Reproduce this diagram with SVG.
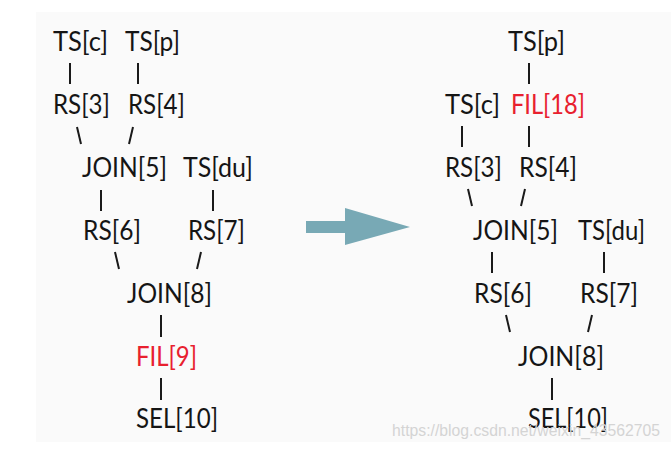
<svg xmlns="http://www.w3.org/2000/svg" width="671" height="449" viewBox="0 0 671 449">
<style>
.n{font-family:Lato,"Open Sans","Liberation Sans",sans-serif;font-size:26px;fill:#151515}
.r{fill:#e8202e}
.c line{stroke:#1a1a1a;stroke-width:2;stroke-linecap:butt}
.wm{font-family:"Liberation Sans",Arial,sans-serif;font-size:16px;fill:#d4d4d4}
</style>
<rect x="0" y="0" width="671" height="449" fill="#ffffff"/>
<rect x="36" y="12" width="635" height="430" fill="#fafafa"/>
<g id="connectors" class="c">
<line x1="70" y1="63" x2="70" y2="84"/>
<line x1="138" y1="63" x2="138" y2="84"/>
<line x1="77" y1="127" x2="81" y2="144"/>
<line x1="133" y1="127" x2="129" y2="144"/>
<line x1="101" y1="190" x2="101" y2="211"/>
<line x1="213" y1="190" x2="213" y2="211"/>
<line x1="115" y1="252" x2="119" y2="269"/>
<line x1="201" y1="252" x2="197" y2="269"/>
<line x1="161" y1="315" x2="161" y2="337"/>
<line x1="161" y1="378" x2="161" y2="400"/>
<line x1="529" y1="63" x2="529" y2="84"/>
<line x1="462" y1="126" x2="462" y2="147"/>
<line x1="529" y1="126" x2="529" y2="147"/>
<line x1="468" y1="189" x2="472" y2="206"/>
<line x1="525" y1="189" x2="521" y2="206"/>
<line x1="492" y1="252" x2="492" y2="273"/>
<line x1="604" y1="252" x2="604" y2="273"/>
<line x1="506" y1="315" x2="510" y2="332"/>
<line x1="592" y1="315" x2="588" y2="332"/>
<line x1="552" y1="378" x2="552" y2="400"/>
</g>
<g id="arrow"><polygon points="306,221 345,221 345,208 410,227 345,245 345,233 306,233" fill="#78a9b5"/></g>
<g id="L_TSc"><text class="n" x="53" y="51" textLength="55" lengthAdjust="spacingAndGlyphs">TS[c]</text></g>
<g id="L_TSp"><text class="n" x="125" y="51" textLength="55" lengthAdjust="spacingAndGlyphs">TS[p]</text></g>
<g id="L_RS3"><text class="n" x="53" y="114" textLength="57" lengthAdjust="spacingAndGlyphs">RS[3]</text></g>
<g id="L_RS4"><text class="n" x="128" y="114" textLength="57" lengthAdjust="spacingAndGlyphs">RS[4]</text></g>
<g id="L_JOIN5"><text class="n" x="82" y="177" textLength="85" lengthAdjust="spacingAndGlyphs">JOIN[5]</text></g>
<g id="L_TSdu"><text class="n" x="183" y="177" textLength="70" lengthAdjust="spacingAndGlyphs">TS[du]</text></g>
<g id="L_RS6"><text class="n" x="83" y="240" textLength="58" lengthAdjust="spacingAndGlyphs">RS[6]</text></g>
<g id="L_RS7"><text class="n" x="188" y="240" textLength="57" lengthAdjust="spacingAndGlyphs">RS[7]</text></g>
<g id="L_JOIN8"><text class="n" x="127" y="303" textLength="85" lengthAdjust="spacingAndGlyphs">JOIN[8]</text></g>
<g id="L_FIL9"><text class="n r" x="136" y="366" textLength="61" lengthAdjust="spacingAndGlyphs">FIL[9]</text></g>
<g id="L_SEL10"><text class="n" x="136" y="428" textLength="82" lengthAdjust="spacingAndGlyphs">SEL[10]</text></g>
<g id="R_TSp"><text class="n" x="508" y="51" textLength="57" lengthAdjust="spacingAndGlyphs">TS[p]</text></g>
<g id="R_TSc"><text class="n" x="445" y="114" textLength="55" lengthAdjust="spacingAndGlyphs">TS[c]</text></g>
<g id="R_FIL18"><text class="n r" x="511" y="114" textLength="74" lengthAdjust="spacingAndGlyphs">FIL[18]</text></g>
<g id="R_RS3"><text class="n" x="445" y="177" textLength="57" lengthAdjust="spacingAndGlyphs">RS[3]</text></g>
<g id="R_RS4"><text class="n" x="519" y="177" textLength="58" lengthAdjust="spacingAndGlyphs">RS[4]</text></g>
<g id="R_JOIN5"><text class="n" x="473" y="240" textLength="85" lengthAdjust="spacingAndGlyphs">JOIN[5]</text></g>
<g id="R_TSdu"><text class="n" x="578" y="240" textLength="67" lengthAdjust="spacingAndGlyphs">TS[du]</text></g>
<g id="R_RS6"><text class="n" x="474" y="303" textLength="58" lengthAdjust="spacingAndGlyphs">RS[6]</text></g>
<g id="R_RS7"><text class="n" x="580" y="303" textLength="58" lengthAdjust="spacingAndGlyphs">RS[7]</text></g>
<g id="R_JOIN8"><text class="n" x="518" y="366" textLength="86" lengthAdjust="spacingAndGlyphs">JOIN[8]</text></g>
<g id="R_SEL10"><text class="n" x="528" y="428" textLength="80" lengthAdjust="spacingAndGlyphs">SEL[10]</text></g>
<text class="wm" x="392" y="436" textLength="268" lengthAdjust="spacingAndGlyphs">https://blog.csdn.net/weixin_43562705</text>
</svg>
